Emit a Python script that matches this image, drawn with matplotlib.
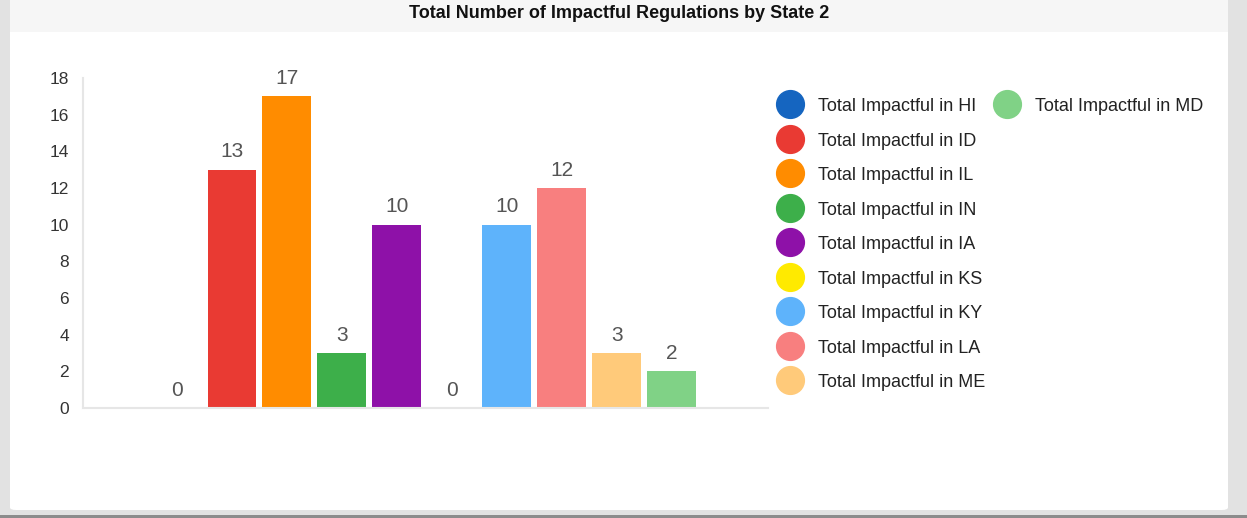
import matplotlib.pyplot as plt
from matplotlib.patches import FancyBboxPatch, Rectangle
from matplotlib.lines import Line2D

plt.rcParams['font.family'] = ['Liberation Sans', 'DejaVu Sans']

states = ['HI', 'ID', 'IL', 'IN', 'IA', 'KS', 'KY', 'LA', 'ME', 'MD']
values = [0, 13, 17, 3, 10, 0, 10, 12, 3, 2]
colors = ['#1565c0', '#e93a33', '#ff8c00', '#3daf4a', '#8e11a8',
          '#ffea00', '#5eb3fb', '#f87f7f', '#ffca7a', '#80d286']
labels = ['Total Impactful in ' + s for s in states]

W, H = 1247, 518
fig = plt.figure(figsize=(W / 100, H / 100), dpi=100)
fig.patch.set_facecolor('#e2e2e2')

# card + title bar
card = FancyBboxPatch((10 / W, 8 / H), 1218 / W, 520 / H,
                      boxstyle='round,pad=0,rounding_size=0.005',
                      transform=fig.transFigure, facecolor='white',
                      edgecolor='none', zorder=-2)
fig.patches.append(card)
fig.patches.append(Rectangle((10 / W, 1 - 32 / H), 1218 / W, 32 / H,
                             transform=fig.transFigure, facecolor='#f6f6f6',
                             edgecolor='none', zorder=-1))
fig.patches.append(Rectangle((0, 0), 1, 3 / H, transform=fig.transFigure,
                             facecolor='#8c8c8c', edgecolor='none', zorder=-1))
fig.text(619 / W, 1 - 14 / H, 'Total Number of Impactful Regulations by State 2',
         ha='center', va='center', fontsize=13, fontweight='bold', color='#111111')

ax = fig.add_axes([83 / W, 1 - 408 / H, (768 - 83) / W, 330 / H])
ax.set_zorder(2)
ax.set_facecolor('white')
x = list(range(len(values)))
bars = ax.bar(x, values, width=0.89, color=colors, zorder=2)
for xi, v in zip(x, values):
    ax.annotate(str(v), (xi, v), xytext=(0, 6), textcoords='offset points',
                ha='center', va='bottom', fontsize=15, color='#555555')

ax.set_xlim(-1.71, 10.75)
ax.set_ylim(0, 18)
ax.set_yticks(range(0, 19, 2))
ax.set_xticks([])
ax.tick_params(axis='y', length=0, pad=10, labelsize=12.5, labelcolor='#333333')
for s in ['top', 'right']:
    ax.spines[s].set_visible(False)
for s in ['left', 'bottom']:
    ax.spines[s].set_color('#e6e6e6')
    ax.spines[s].set_linewidth(1.5)

handles = [Line2D([], [], marker='o', linestyle='none', markersize=20,
                  markerfacecolor=c, markeredgecolor=c) for c in colors]

leg_kw = dict(loc='upper left', frameon=False, fontsize=13, handlelength=1.4,
              handleheight=1.0, labelspacing=0.9, handletextpad=0.85,
              borderpad=0, labelcolor='#222222')
leg1 = fig.legend(handles[:9], labels[:9],
                  bbox_to_anchor=(768 / W, 1 - 88 / H), **leg_kw)
leg2 = fig.legend(handles[9:], labels[9:],
                  bbox_to_anchor=(985 / W, 1 - 88 / H), **leg_kw)

fig.savefig('out.png', dpi=100)
